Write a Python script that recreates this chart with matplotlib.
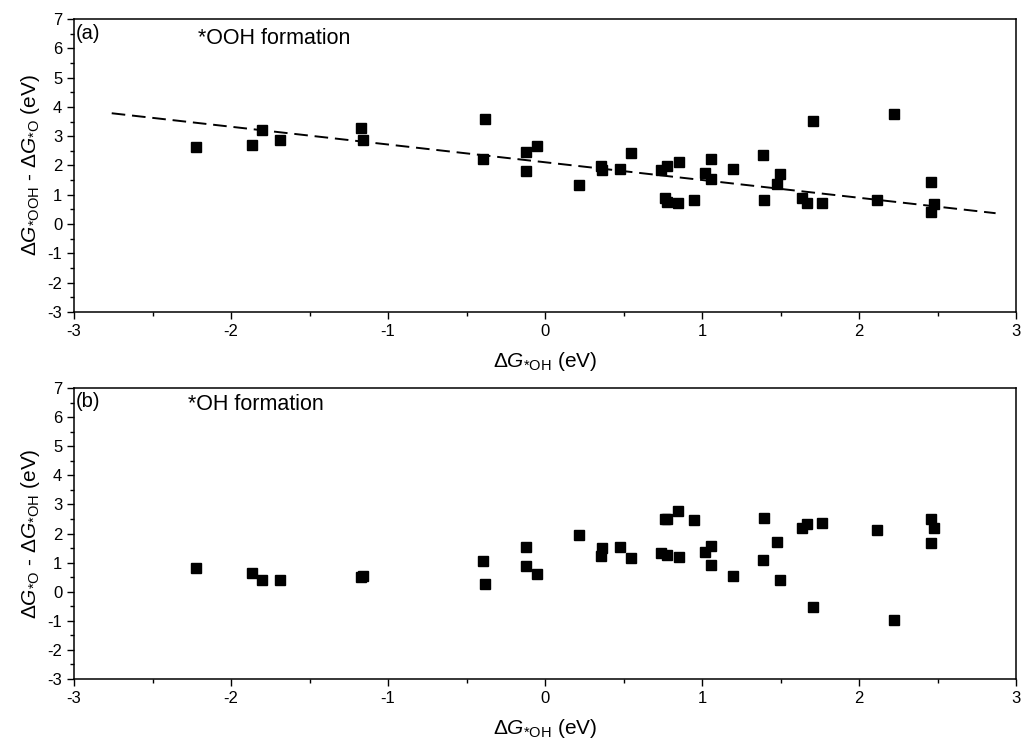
import numpy as np
import matplotlib.pyplot as plt
from matplotlib.ticker import MultipleLocator

plt.rcParams['font.family'] = ['Liberation Sans', 'DejaVu Sans']
plt.rcParams['mathtext.fontset'] = 'custom'
plt.rcParams['mathtext.rm'] = 'Liberation Sans'
plt.rcParams['mathtext.it'] = 'Liberation Sans:italic'
plt.rcParams['axes.unicode_minus'] = False

# dG*OH (x for both panels)
dg_oh = [-2.225, -1.864, -1.80, -1.69, -1.17, -1.16, -0.382, -0.393, -0.123, -0.123,
         -0.053, 0.217, 0.357, 0.365, 0.476, 0.548, 0.741, 0.775, 0.766, 0.775,
         0.847, 0.856, 0.947, 1.019, 1.055, 1.055, 1.195, 1.386, 1.397, 1.475,
         1.497, 1.705, 1.634, 1.666, 1.764, 2.115, 2.225, 2.457, 2.478, 2.457]

# dG*OOH - dG*O
ooh_minus_o = [2.63, 2.69, 3.20, 2.87, 3.29, 2.88, 3.59, 2.23, 2.47, 1.82,
               2.68, 1.33, 1.98, 1.85, 1.88, 2.43, 1.85, 1.98, 0.89, 0.76,
               0.72, 2.13, 0.82, 1.75, 2.21, 1.53, 1.88, 2.35, 0.81, 1.38,
               1.71, 3.53, 0.89, 0.71, 0.71, 0.83, 3.77, 1.43, 0.70, 0.41]

# dG*O - dG*OH
o_minus_oh = [0.80, 0.64, 0.41, 0.41, 0.52, 0.55, 0.26, 1.07, 1.54, 0.88,
              0.60, 1.95, 1.23, 1.49, 1.52, 1.16, 1.32, 1.26, 2.49, 2.49,
              2.76, 1.18, 2.46, 1.38, 0.93, 1.56, 0.55, 1.08, 2.53, 1.70,
              0.40, -0.54, 2.19, 2.34, 2.35, 2.11, -0.97, 1.67, 2.19, 2.51]

# linear fit shown in panel (a)
fit_slope = -0.606
fit_intercept = 2.11
fit_xrange = [-2.76, 2.87]

fig = plt.figure(figsize=(10.24, 7.53), dpi=100)
ax1 = fig.add_axes([0.0723, 0.5857, 0.9199, 0.3891])
ax2 = fig.add_axes([0.0723, 0.0983, 0.9199, 0.3864])

xlab = r'$\Delta G_{*\mathrm{OH}}$ (eV)'

for ax in (ax1, ax2):
    ax.set_xlim(-3, 3)
    ax.set_ylim(-3, 7)
    ax.xaxis.set_major_locator(MultipleLocator(1))
    ax.xaxis.set_minor_locator(MultipleLocator(0.5))
    ax.yaxis.set_major_locator(MultipleLocator(1))
    ax.yaxis.set_minor_locator(MultipleLocator(0.5))
    ax.tick_params(which='major', direction='out', length=5, width=1, labelsize=12)
    ax.tick_params(which='minor', direction='out', length=3, width=1)
    for s in ax.spines.values():
        s.set_linewidth(1.1)
    ax.set_xlabel(xlab, fontsize=15, labelpad=8)

# panel a
ax1.plot(dg_oh, ooh_minus_o, 's', color='black', markersize=6.5, linestyle='none')
fx = np.array(fit_xrange)
ax1.plot(fx, fit_slope * fx + fit_intercept, color='black', lw=1.4,
         linestyle=(0, (7, 3.5)))
ax1.set_ylabel(r'$\Delta G_{*\mathrm{OOH}}$ - $\Delta G_{*\mathrm{O}}$ (eV)', fontsize=15)
ax1.text(0.002, 0.952, '(a)', transform=ax1.transAxes, fontsize=14.5, va='center')
ax1.text(0.132, 0.932, '*OOH formation', transform=ax1.transAxes, fontsize=15.5, va='center')

# panel b
ax2.plot(dg_oh, o_minus_oh, 's', color='black', markersize=6.5, linestyle='none')
ax2.set_ylabel(r'$\Delta G_{*\mathrm{O}}$ - $\Delta G_{*\mathrm{OH}}$ (eV)', fontsize=15)
ax2.text(0.002, 0.952, '(b)', transform=ax2.transAxes, fontsize=14.5, va='center')
ax2.text(0.121, 0.942, '*OH formation', transform=ax2.transAxes, fontsize=15.5, va='center')

fig.savefig('out.png', dpi=100)
